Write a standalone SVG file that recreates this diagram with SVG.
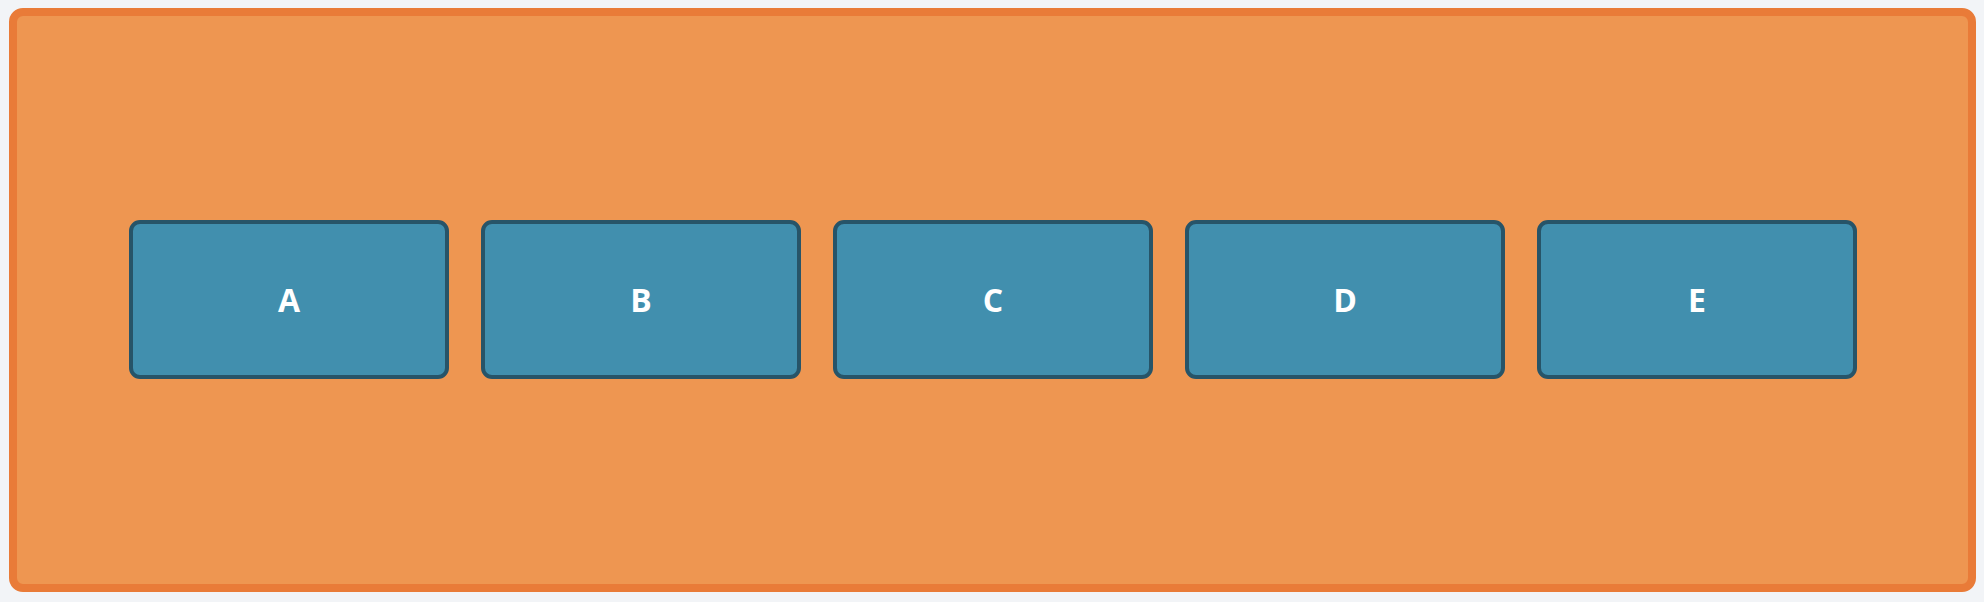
<svg xmlns="http://www.w3.org/2000/svg" width="1984" height="602" viewBox="0 0 1984 602">
<style>
.node rect{fill:#418fae;stroke:#275468;stroke-width:4}
.node text{fill:#ffffff;font-family:"Open Sans",sans-serif;font-weight:bold;font-size:32px;text-anchor:middle}
</style>
<rect width="1984" height="602" fill="#f2f4f7"/>
<rect id="container" x="13" y="12" width="1959" height="576" rx="10" fill="#ee9651" stroke="#e97b38" stroke-width="8"/>
<g id="connectors"></g>
<g id="A" class="node"><rect x="131" y="222" width="316" height="155" rx="9"/><text x="289" y="312">A</text></g>
<g id="B" class="node"><rect x="483" y="222" width="316" height="155" rx="9"/><text x="641" y="312">B</text></g>
<g id="C" class="node"><rect x="835" y="222" width="316" height="155" rx="9"/><text x="993" y="312">C</text></g>
<g id="D" class="node"><rect x="1187" y="222" width="316" height="155" rx="9"/><text x="1345" y="312">D</text></g>
<g id="E" class="node"><rect x="1539" y="222" width="316" height="155" rx="9"/><text x="1697" y="312">E</text></g>
</svg>
